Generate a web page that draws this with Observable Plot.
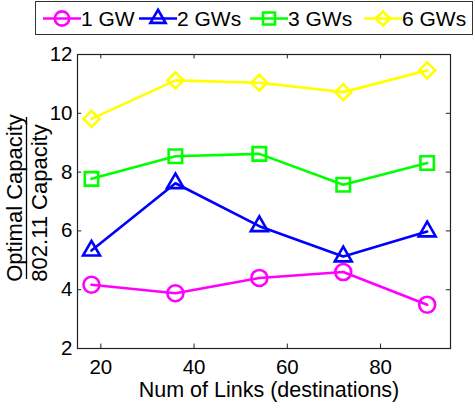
<!DOCTYPE html>
<html>
<head>
<meta charset="utf-8">
<script src="https://cdn.jsdelivr.net/npm/d3@7"></script>
<script src="https://cdn.jsdelivr.net/npm/@observablehq/plot@0.6"></script>
<style>
  html, body { margin: 0; padding: 0; background: white; }
  body { width: 475px; height: 409px; position: relative; overflow: hidden; font-family: "Liberation Sans", Arial, sans-serif; }
  #legend { position: absolute; left: 35px; top: 1px; width: 438px; height: 34px; border: 1.5px solid #333; background: white; box-sizing: border-box; }
  #legend svg { position: absolute; left: 0; top: 0; }
</style>
</head>
<body>
<div id="chart"></div>
<div id="legend"></div>
<script>
const xValues = [18, 36, 54, 72, 90];
const seriesNames = ["1 GW", "2 GWs", "3 GWs", "6 GWs"];
const gw1 = [4.17, 3.88, 4.40, 4.60, 3.49];
const gw2 = [5.33, 7.62, 6.16, 5.13, 5.98];
const gw3 = [7.77, 8.54, 8.62, 7.57, 8.31];
const gw6 = [9.81, 11.12, 11.04, 10.72, 11.46];
const seriesColors = ["#ff00ff", "#0000ff", "#00ff00", "#ffff00"];
const seriesSymbols = ["circle", "triangle", "square", "diamond2"];
const markerRadius = [8, 6.3, 7.6, 7.2];
const xTicks = [20, 40, 60, 80];
const yTicks = [2, 4, 6, 8, 10, 12];

const allValues = [gw1, gw2, gw3, gw6];
const data = [];
seriesNames.forEach((s, i) => xValues.forEach((x, j) => data.push({series: s, x, y: allValues[i][j], r: markerRadius[i]})));

const font = "Liberation Sans, Arial, sans-serif";
const chart = Plot.plot({
  width: 475,
  height: 409,
  marginTop: 54,
  marginBottom: 61,
  marginLeft: 77,
  marginRight: 25,
  style: {fontFamily: font, fontSize: "20.5px", color: "black", background: "white"},
  x: {domain: [15, 95], ticks: xTicks, tickSize: 0, tickPadding: 10.5, label: null},
  y: {domain: [2, 12], ticks: yTicks, tickSize: 0, tickPadding: 5, label: null},
  color: {domain: seriesNames, range: seriesColors},
  symbol: {domain: seriesNames, range: seriesSymbols},
  r: {type: "identity"},
  marks: [
    Plot.ruleX(xTicks, {x: d => d, y1: 2, y2: 2.15, stroke: "#222"}),
    Plot.ruleX(xTicks, {x: d => d, y1: 11.85, y2: 12, stroke: "#222"}),
    Plot.ruleY(yTicks, {y: d => d, x1: 15, x2: 15.9, stroke: "#222"}),
    Plot.ruleY(yTicks, {y: d => d, x1: 94.1, x2: 95, stroke: "#222"}),
    Plot.line(data, {x: "x", y: "y", z: "series", stroke: "series", strokeWidth: 2.6}),
    Plot.dot(data, {x: "x", y: "y", stroke: "series", symbol: "series", r: "r", strokeWidth: 2.6, fill: "none"}),
    Plot.frame({stroke: "#222", strokeWidth: 1.2})
  ]
});
document.getElementById("chart").appendChild(chart);

const svg = d3.select(chart);
svg.append("text")
  .attr("x", 269).attr("y", 396.5)
  .attr("text-anchor", "middle")
  .style("font-family", font).style("font-size", "21.5px").attr("fill", "black")
  .text("Num of Links (destinations)");
svg.append("text")
  .attr("transform", "translate(22,198) rotate(-90)")
  .attr("text-anchor", "middle")
  .style("font-family", font).style("font-size", "22px").attr("fill", "black")
  .text("Optimal Capacity");
svg.append("line")
  .attr("x1", 26.5).attr("x2", 26.5).attr("y1", 117).attr("y2", 279)
  .attr("stroke", "black").attr("stroke-width", 1.3);
svg.append("text")
  .attr("transform", "translate(47,203) rotate(-90)")
  .attr("text-anchor", "middle")
  .style("font-family", font).style("font-size", "22px").attr("fill", "black")
  .text("802.11 Capacity");

// Legend
const lg = d3.select("#legend").append("svg").attr("width", 438).attr("height", 34);
const legendX = [7, 103, 214, 328];
const symbolMap = {circle: d3.symbolCircle, triangle: d3.symbolTriangle, square: d3.symbolSquare, diamond2: d3.symbolDiamond2};
seriesNames.forEach((s, i) => {
  const g = lg.append("g").attr("transform", `translate(${legendX[i]},0)`);
  g.append("line").attr("x1", 0).attr("x2", 38).attr("y1", 16.5).attr("y2", 16.5)
    .attr("stroke", seriesColors[i]).attr("stroke-width", 2.6);
  g.append("path").attr("transform", "translate(19,16.5)")
    .attr("d", d3.symbol(symbolMap[seriesSymbols[i]], Math.PI * markerRadius[i] * markerRadius[i] * 0.8)())
    .attr("fill", "none").attr("stroke", seriesColors[i]).attr("stroke-width", 2.6);
  g.append("text").attr("x", 38).attr("y", 24)
    .style("font-family", font).style("font-size", "21px").attr("fill", "black")
    .text(s);
});
</script>
</body>
</html>
